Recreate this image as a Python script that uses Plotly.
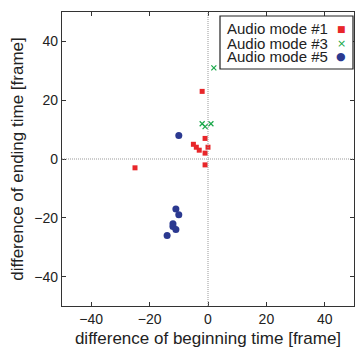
import plotly.graph_objects as go

# data: (difference of beginning time, difference of ending time) in frames
mode1_x = [-2, -1, -5, -4, -3, 0, -1, -1, -25]
mode1_y = [23, 7, 5, 4, 3, 4, 2, -2, -3]
mode3_x = [2, -2, -1, 1]
mode3_y = [31, 12, 11, 12]
mode5_x = [-10, -11, -10, -12, -12, -11, -14]
mode5_y = [8, -17, -19, -22, -23, -24, -26]
names = ["Audio mode #1", "Audio mode #3", "Audio mode #5"]
tick_vals = [-40, -20, 0, 20, 40]

W, H = 355, 351
ml, mr, mt, mb = 62, 1, 12, 45
pw, ph = W - ml - mr, H - mt - mb

def px(x):
    return (x - ml) / pw

def py(y):
    return (H - mb - y) / ph

fig = go.Figure()
fig.add_trace(go.Scatter(x=mode1_x, y=mode1_y, mode="markers", name=names[0],
                         marker=dict(symbol="square", size=5, color="#e8262a")))
fig.add_trace(go.Scatter(x=mode3_x, y=mode3_y, mode="markers", name=names[1],
                         marker=dict(symbol="x-thin", size=5, color="#1aa84a",
                                     line=dict(width=1.2, color="#1aa84a"))))
fig.add_trace(go.Scatter(x=mode5_x, y=mode5_y, mode="markers", name=names[2],
                         marker=dict(symbol="circle", size=7, color="#2b3990")))

font = "Liberation Sans, Arial, sans-serif"
axis_common = dict(range=[-50, 50], tickvals=tick_vals, ticks="inside", ticklen=4,
                   showline=True, linecolor="#333", linewidth=1.2, mirror="ticks",
                   showgrid=False, zeroline=False, tickcolor="#333",
                   tickfont=dict(family=font, size=14, color="#222"))

# dotted reference lines at zero
fig.add_shape(type="line", x0=0, x1=0, y0=-50, y1=50, xref="x", yref="y",
              line=dict(color="#999", width=1, dash="1px,1px"))
fig.add_shape(type="line", x0=-50, x1=50, y0=0, y1=0, xref="x", yref="y",
              line=dict(color="#999", width=1, dash="1px,1px"))
# legend box
fig.add_shape(type="rect", xref="paper", yref="paper",
              x0=px(220), x1=px(353), y0=py(69), y1=py(16),
              line=dict(color="#222", width=1.2), fillcolor="white", layer="above")
for i, n in enumerate(names):
    fig.add_annotation(text=n, xref="paper", yref="paper", x=px(330), y=py(29 + 14 * i),
                       xanchor="right", yanchor="middle", showarrow=False,
                       font=dict(family=font, size=15, color="#222"))

fig.update_layout(
    width=W, height=H, margin=dict(l=ml, r=mr, t=mt, b=mb),
    paper_bgcolor="white", plot_bgcolor="white",
    xaxis=dict(axis_common, title=dict(text="difference of beginning time [frame]",
                                        font=dict(family=font, size=17, color="#222"), standoff=6)),
    yaxis=dict(axis_common, title=dict(text="difference of ending time [frame]",
                                        font=dict(family=font, size=17, color="#222"), standoff=6)),
    showlegend=False,
)

# legend symbols drawn as annotations (text glyphs)
syms = [("■", "#e8262a", 9), ("×", "#1aa84a", 11), ("●", "#2b3990", 11)]
for i, (s, c, sz) in enumerate(syms):
    fig.add_annotation(text=s, xref="paper", yref="paper", x=px(341), y=py(29 + 14 * i),
                       xanchor="center", yanchor="middle", showarrow=False,
                       font=dict(family="DejaVu Sans", size=sz, color=c))

fig.write_html("out.html")
